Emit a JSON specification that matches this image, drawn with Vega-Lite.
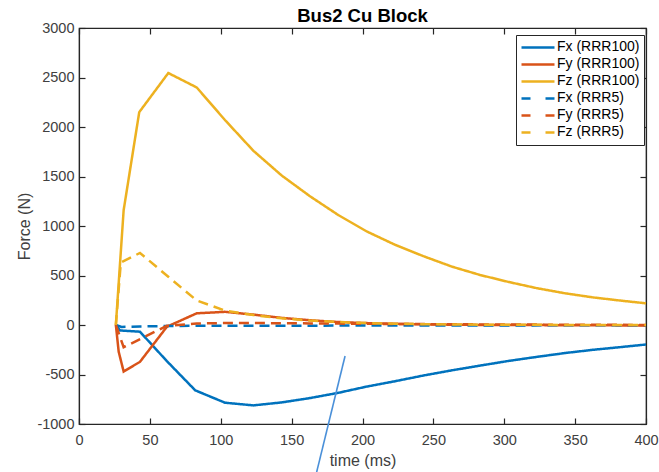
{
  "$schema": "https://vega.github.io/schema/vega-lite/v6.json",
  "width": 567,
  "height": 396,
  "autosize": {"type": "none"},
  "padding": {"left": 79, "top": 28, "right": 13, "bottom": 48},
  "background": "white",
  "title": {"text": "Bus2 Cu Block", "font": "Liberation Sans", "fontSize": 18.5, "fontWeight": "bold", "color": "#000000", "anchor": "middle", "offset": -5},
  "config": {
    "view": {"stroke": "#262626", "strokeWidth": 1.2},
    "axis": {"grid": false, "domainColor": "#262626", "domainWidth": 1.2, "tickColor": "#262626", "tickWidth": 1.2, "labelFont": "Liberation Sans", "labelFontSize": 14.5, "labelColor": "#404040", "titleFont": "Liberation Sans", "titleFontSize": 16, "titleFontWeight": "normal", "titleColor": "#404040", "labelFlush": false, "labelOverlap": false, "labelExpr": "datum.value + ''"}
  },
  "data": {"values": [
    {"t": 26, "f": 0, "s": "Fx (RRR100)"},
    {"t": 29, "f": -55, "s": "Fx (RRR100)"},
    {"t": 43, "f": -68, "s": "Fx (RRR100)"},
    {"t": 62, "f": -365, "s": "Fx (RRR100)"},
    {"t": 82, "f": -660, "s": "Fx (RRR100)"},
    {"t": 103, "f": -785, "s": "Fx (RRR100)"},
    {"t": 123, "f": -812, "s": "Fx (RRR100)"},
    {"t": 143, "f": -782, "s": "Fx (RRR100)"},
    {"t": 163, "f": -738, "s": "Fx (RRR100)"},
    {"t": 183, "f": -685, "s": "Fx (RRR100)"},
    {"t": 203, "f": -622, "s": "Fx (RRR100)"},
    {"t": 223, "f": -568, "s": "Fx (RRR100)"},
    {"t": 243, "f": -510, "s": "Fx (RRR100)"},
    {"t": 263, "f": -458, "s": "Fx (RRR100)"},
    {"t": 283, "f": -410, "s": "Fx (RRR100)"},
    {"t": 303, "f": -363, "s": "Fx (RRR100)"},
    {"t": 323, "f": -322, "s": "Fx (RRR100)"},
    {"t": 343, "f": -283, "s": "Fx (RRR100)"},
    {"t": 363, "f": -250, "s": "Fx (RRR100)"},
    {"t": 383, "f": -222, "s": "Fx (RRR100)"},
    {"t": 400, "f": -197, "s": "Fx (RRR100)"},

    {"t": 26, "f": 0, "s": "Fy (RRR100)"},
    {"t": 28, "f": -270, "s": "Fy (RRR100)"},
    {"t": 31.5, "f": -470, "s": "Fy (RRR100)"},
    {"t": 43, "f": -372, "s": "Fy (RRR100)"},
    {"t": 62, "f": -18, "s": "Fy (RRR100)"},
    {"t": 83, "f": 118, "s": "Fy (RRR100)"},
    {"t": 103, "f": 133, "s": "Fy (RRR100)"},
    {"t": 123, "f": 105, "s": "Fy (RRR100)"},
    {"t": 143, "f": 72, "s": "Fy (RRR100)"},
    {"t": 163, "f": 48, "s": "Fy (RRR100)"},
    {"t": 183, "f": 30, "s": "Fy (RRR100)"},
    {"t": 203, "f": 19, "s": "Fy (RRR100)"},
    {"t": 223, "f": 12, "s": "Fy (RRR100)"},
    {"t": 243, "f": 7, "s": "Fy (RRR100)"},
    {"t": 263, "f": 3, "s": "Fy (RRR100)"},
    {"t": 283, "f": 1, "s": "Fy (RRR100)"},
    {"t": 303, "f": 0, "s": "Fy (RRR100)"},
    {"t": 323, "f": -1, "s": "Fy (RRR100)"},
    {"t": 343, "f": -2, "s": "Fy (RRR100)"},
    {"t": 363, "f": -3, "s": "Fy (RRR100)"},
    {"t": 383, "f": -4, "s": "Fy (RRR100)"},
    {"t": 400, "f": -5, "s": "Fy (RRR100)"},

    {"t": 26, "f": 0, "s": "Fz (RRR100)"},
    {"t": 31.5, "f": 1160, "s": "Fz (RRR100)"},
    {"t": 42.5, "f": 2150, "s": "Fz (RRR100)"},
    {"t": 63, "f": 2545, "s": "Fz (RRR100)"},
    {"t": 83, "f": 2400, "s": "Fz (RRR100)"},
    {"t": 103, "f": 2070, "s": "Fz (RRR100)"},
    {"t": 123, "f": 1760, "s": "Fz (RRR100)"},
    {"t": 143, "f": 1510, "s": "Fz (RRR100)"},
    {"t": 163, "f": 1300, "s": "Fz (RRR100)"},
    {"t": 183, "f": 1110, "s": "Fz (RRR100)"},
    {"t": 203, "f": 945, "s": "Fz (RRR100)"},
    {"t": 223, "f": 810, "s": "Fz (RRR100)"},
    {"t": 243, "f": 695, "s": "Fz (RRR100)"},
    {"t": 263, "f": 590, "s": "Fz (RRR100)"},
    {"t": 283, "f": 505, "s": "Fz (RRR100)"},
    {"t": 303, "f": 435, "s": "Fz (RRR100)"},
    {"t": 323, "f": 372, "s": "Fz (RRR100)"},
    {"t": 343, "f": 320, "s": "Fz (RRR100)"},
    {"t": 363, "f": 278, "s": "Fz (RRR100)"},
    {"t": 383, "f": 245, "s": "Fz (RRR100)"},
    {"t": 400, "f": 219, "s": "Fz (RRR100)"},

    {"t": 26, "f": 0, "s": "Fx (RRR5)"},
    {"t": 30, "f": -20, "s": "Fx (RRR5)"},
    {"t": 43, "f": -15, "s": "Fx (RRR5)"},
    {"t": 63, "f": -10, "s": "Fx (RRR5)"},
    {"t": 83, "f": -8, "s": "Fx (RRR5)"},
    {"t": 123, "f": -7, "s": "Fx (RRR5)"},
    {"t": 203, "f": -6, "s": "Fx (RRR5)"},
    {"t": 303, "f": -4, "s": "Fx (RRR5)"},
    {"t": 400, "f": -3, "s": "Fx (RRR5)"},

    {"t": 26, "f": 0, "s": "Fy (RRR5)"},
    {"t": 31.5, "f": -225, "s": "Fy (RRR5)"},
    {"t": 62, "f": -8, "s": "Fy (RRR5)"},
    {"t": 83, "f": 15, "s": "Fy (RRR5)"},
    {"t": 103, "f": 20, "s": "Fy (RRR5)"},
    {"t": 123, "f": 20, "s": "Fy (RRR5)"},
    {"t": 143, "f": 18, "s": "Fy (RRR5)"},
    {"t": 163, "f": 16, "s": "Fy (RRR5)"},
    {"t": 183, "f": 14, "s": "Fy (RRR5)"},
    {"t": 203, "f": 12, "s": "Fy (RRR5)"},
    {"t": 243, "f": 9, "s": "Fy (RRR5)"},
    {"t": 283, "f": 6, "s": "Fy (RRR5)"},
    {"t": 323, "f": 4, "s": "Fy (RRR5)"},
    {"t": 363, "f": 2, "s": "Fy (RRR5)"},
    {"t": 400, "f": 1, "s": "Fy (RRR5)"},

    {"t": 26, "f": 0, "s": "Fz (RRR5)"},
    {"t": 29.5, "f": 630, "s": "Fz (RRR5)"},
    {"t": 43, "f": 728, "s": "Fz (RRR5)"},
    {"t": 63, "f": 487, "s": "Fz (RRR5)"},
    {"t": 83, "f": 248, "s": "Fz (RRR5)"},
    {"t": 103, "f": 145, "s": "Fz (RRR5)"},
    {"t": 123, "f": 100, "s": "Fz (RRR5)"},
    {"t": 143, "f": 68, "s": "Fz (RRR5)"},
    {"t": 163, "f": 45, "s": "Fz (RRR5)"},
    {"t": 183, "f": 30, "s": "Fz (RRR5)"},
    {"t": 203, "f": 20, "s": "Fz (RRR5)"},
    {"t": 223, "f": 13, "s": "Fz (RRR5)"},
    {"t": 243, "f": 8, "s": "Fz (RRR5)"},
    {"t": 263, "f": 5, "s": "Fz (RRR5)"},
    {"t": 283, "f": 3, "s": "Fz (RRR5)"},
    {"t": 303, "f": 2, "s": "Fz (RRR5)"},
    {"t": 343, "f": 1, "s": "Fz (RRR5)"},
    {"t": 400, "f": 0, "s": "Fz (RRR5)"}
  ]},
  "layer": [
    {
      "mark": {"type": "line", "strokeWidth": 2.5, "strokeCap": "butt"},
      "encoding": {
        "x": {"field": "t", "type": "quantitative", "scale": {"domain": [0, 400], "nice": false, "zero": false},
          "axis": {"orient": "bottom", "values": [0, 50, 100, 150, 200, 250, 300, 350, 400], "tickSize": -6, "labelPadding": 15, "title": "time (ms)", "titleX": 283.5, "titleY": 36, "titleBaseline": "middle", "titleAnchor": "middle"}},
        "y": {"field": "f", "type": "quantitative", "scale": {"domain": [-1000, 3000], "nice": false, "zero": false},
          "axis": {"orient": "left", "values": [-1000, -500, 0, 500, 1000, 1500, 2000, 2500, 3000], "tickSize": -6, "labelPadding": 11, "title": "Force (N)", "titleX": -55, "titleY": 198, "titleBaseline": "middle", "titleAngle": 270, "titleAnchor": "middle"}},
        "color": {"field": "s", "type": "nominal",
          "scale": {"domain": ["Fx (RRR100)", "Fy (RRR100)", "Fz (RRR100)", "Fx (RRR5)", "Fy (RRR5)", "Fz (RRR5)"], "range": ["#0072BD", "#D95319", "#EDB120", "#0072BD", "#D95319", "#EDB120"]},
          "legend": {"title": null, "orient": "none", "legendX": 437, "legendY": 7, "strokeColor": "#262626", "fillColor": "#ffffff", "padding": 4, "labelFont": "Liberation Sans", "labelFontSize": 14, "labelColor": "#000000", "labelOffset": 1, "symbolType": "stroke", "symbolSize": 1089, "symbolStrokeWidth": 2.5, "clipHeight": 16.8, "rowPadding": 0,
            "encode": {"symbols": {"update": {"strokeDash": {"signal": "indexof(datum.value, 'RRR5') >= 0 ? [9, 15] : [1, 0]"}}}}}},
        "strokeDash": {"condition": {"test": "indexof(datum.s, 'RRR5') >= 0", "value": [10, 6]}, "value": [1, 0]},
        "order": {"field": "t", "type": "quantitative"}
      }
    },
    {
      "data": {"values": [{"xa": 187.7, "ya": -313, "xb": 166.3, "yb": -1565}]},
      "mark": {"type": "rule", "color": "#4a90d9", "strokeWidth": 1.6, "clip": false},
      "encoding": {
        "x": {"field": "xa", "type": "quantitative", "axis": null},
        "y": {"field": "ya", "type": "quantitative", "axis": null},
        "x2": {"field": "xb"},
        "y2": {"field": "yb"}
      }
    },
    {
      "mark": {"type": "point", "opacity": 0},
      "encoding": {
        "x": {"field": "t", "type": "quantitative", "axis": {"orient": "top", "values": [0, 50, 100, 150, 200, 250, 300, 350, 400], "tickSize": -6, "labels": false, "title": null}},
        "y": {"field": "f", "type": "quantitative", "axis": {"orient": "right", "values": [-1000, -500, 0, 500, 1000, 1500, 2000, 2500, 3000], "tickSize": -6, "labels": false, "title": null}}
      }
    }
  ],
  "resolve": {"axis": {"x": "independent", "y": "independent"}}
}
